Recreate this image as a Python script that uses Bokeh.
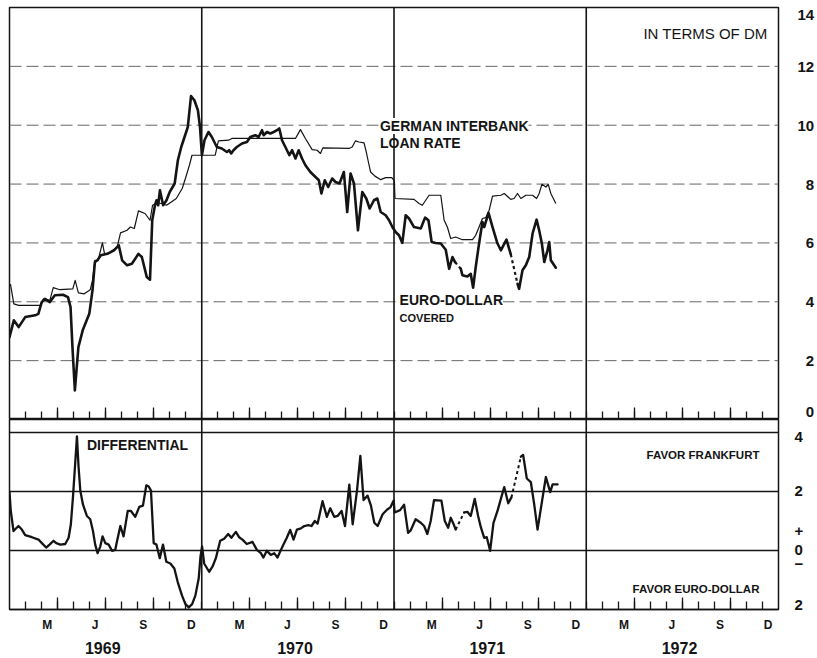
import numpy as np
from bokeh.plotting import figure
from bokeh.models import Range1d, LinearAxis, FixedTicker, Span, Label, Grid
from bokeh.layouts import column
from bokeh.embed import file_html
from bokeh.resources import INLINE

# ---------------- data (months since 1 Jan 1969) ----------------
euro_m = [0.0, 0.27, 0.57, 0.98, 1.60, 1.80, 2.01, 2.21, 2.52, 2.83,
          3.34, 3.65, 3.81, 3.93, 4.08, 4.30, 4.57, 4.98, 5.18, 5.33,
          5.49, 5.70, 6.11, 6.52, 6.82, 7.03, 7.34, 7.64, 8.05, 8.26,
          8.57, 8.77, 8.91, 9.08, 9.18, 9.28, 9.39, 9.59, 9.80, 10.00,
          10.31, 10.51, 10.72, 11.13, 11.33, 11.54, 11.76, 11.89, 12.01,
          12.17, 12.42, 12.63, 12.94, 13.25, 13.57, 13.71, 13.84, 13.98, 14.19,
          14.51, 14.82, 15.03, 15.34, 15.55, 15.76, 15.86, 16.07, 16.28, 16.49,
          16.70, 16.84, 17.01, 17.22, 17.47, 17.64, 17.85, 18.05, 18.26, 18.47,
          18.78, 19.10, 19.31, 19.47, 19.68, 19.89, 20.14, 20.35, 20.60, 20.87,
          21.08, 21.29, 21.50, 21.75, 22.02, 22.27, 22.48, 22.75, 22.96, 23.17,
          23.48, 23.69, 23.90,
          24.10, 24.31, 24.52, 24.73, 24.94, 25.25, 25.67, 25.94, 26.15, 26.35,
          26.60, 26.92, 27.23, 27.44, 27.65, 27.81, 28.17, 28.27, 28.58, 28.79,
          28.94, 29.10, 29.31, 29.52, 29.63, 29.90, 30.15, 30.46, 30.67, 31.02,
          31.29, 31.71, 31.81, 32.02, 32.23, 32.44, 32.65, 32.90, 33.06, 33.23,
          33.38, 33.58, 33.69, 33.79, 34.10]
euro_v = [2.80, 3.37, 3.14, 3.48, 3.54, 3.59, 3.99, 4.10, 3.99, 4.22,
          4.24, 4.16, 3.82, 2.46, 0.99, 2.46, 3.03, 3.59, 4.39, 5.35,
          5.41, 5.58, 5.63, 5.75, 5.92, 5.41, 5.24, 5.29, 5.63, 5.52,
          4.84, 4.75, 6.77, 7.28, 7.45, 7.28, 7.79, 7.28, 7.45, 7.73,
          8.02, 8.81, 9.26, 9.94, 10.99, 10.85, 10.51, 9.94, 8.98,
          9.49, 9.77, 9.60, 9.26, 9.21, 9.09, 9.15, 9.04, 9.15, 9.26,
          9.38, 9.43, 9.60, 9.66, 9.60, 9.83, 9.66, 9.77, 9.72, 9.77,
          9.83, 9.89, 9.49, 9.26, 8.98, 9.15, 8.87, 9.15, 8.87, 8.64,
          8.41, 8.24, 8.13, 7.68, 8.13, 7.90, 8.19, 8.07, 8.02, 8.41,
          7.05, 8.36, 8.02, 6.43, 7.73, 7.51, 7.17, 7.45, 7.51, 7.05,
          6.94, 6.77, 6.54,
          6.37, 6.26, 6.00, 6.94, 6.83, 6.54, 6.49, 6.86, 6.77, 6.03,
          6.00, 5.98, 5.77, 5.12, 5.52, 5.35, 5.12, 4.90, 4.86, 4.95,
          4.48, 5.18, 5.98, 6.71, 6.54, 7.02, 6.54, 5.98, 5.75, 6.11,
          5.61, 4.61, 4.44, 5.07, 5.24, 5.52, 6.32, 6.79, 6.43, 5.98,
          5.35, 5.75, 6.03, 5.41, 5.16]
euro_dashed_from = [27.81, 31.29]

german_m = [0.06, 0.27, 0.57, 1.97, 2.11, 2.52, 2.73, 3.14, 3.95, 4.10,
            4.30, 4.67, 5.04, 5.18, 5.33, 5.53, 5.80, 5.94, 6.31, 6.72,
            6.93, 7.34, 7.54, 7.79, 8.05, 8.46, 8.77, 8.93, 9.18, 9.49,
            9.80, 10.10, 10.41, 10.78, 10.98, 11.23, 11.39, 12.01,
            12.84, 13.04, 13.67, 13.88, 17.85, 18.16, 18.47, 18.89, 19.20, 19.41,
            19.56, 21.19, 21.39, 21.60, 21.81, 22.13, 22.27, 22.40, 22.54, 22.81,
            23.17, 23.48, 23.86,
            24.02, 24.06, 25.25, 25.56, 25.77, 25.98, 26.19, 26.92, 27.13, 27.33,
            27.54, 27.85, 28.27, 28.90, 29.10, 29.31, 29.52, 29.73, 29.94, 30.15,
            30.67, 30.88, 31.29, 31.50, 31.71, 31.92, 32.23, 32.65, 32.90, 33.06,
            33.23, 33.48, 33.63, 33.79, 34.10]
german_v = [4.60, 3.93, 3.88, 3.88, 4.10, 4.05, 4.48, 4.41, 4.44, 4.73,
            4.30, 4.27, 4.41, 4.73, 5.41, 5.41, 6.00, 5.61, 5.69, 5.86,
            6.34, 6.43, 6.54, 6.49, 7.09, 7.00, 6.77, 7.28, 7.36, 7.34,
            7.28, 7.39, 7.51, 7.85, 8.19, 8.64, 8.98, 8.98,
            8.98, 9.47, 9.49, 9.55, 9.55, 9.85, 9.55, 9.17, 9.15, 9.04,
            9.23, 9.21, 9.26, 9.47, 9.43, 9.40, 9.09, 8.75, 8.41, 8.27,
            8.15, 8.22, 8.22,
            8.11, 7.51, 7.48, 7.34, 7.28, 7.45, 7.62, 7.62, 6.77, 6.54,
            6.15, 6.20, 6.11, 6.11, 6.26, 6.54, 6.83, 6.86, 7.11, 7.59,
            7.62, 7.68, 7.48, 7.51, 7.68, 7.51, 7.62, 7.62, 7.51, 7.68,
            7.99, 7.90, 7.99, 7.68, 7.34]

diff_m = [0.0, 0.08, 0.25, 0.56, 0.77, 0.98, 1.40, 1.81, 2.02, 2.29,
          2.50, 2.75, 2.92, 3.17, 3.48, 3.69, 3.83, 3.96, 4.10, 4.21,
          4.31, 4.42, 4.58, 4.83, 5.04, 5.21, 5.35, 5.50, 5.67, 5.81,
          5.98, 6.19, 6.40, 6.60, 6.71, 6.92, 7.12, 7.38, 7.58, 7.85,
          8.10, 8.33, 8.54, 8.69, 8.83, 9.00, 9.17, 9.38, 9.58, 9.79,
          10.04, 10.29, 10.50, 10.77, 10.98, 11.19, 11.40, 11.60, 11.81, 11.92,
          12.02,
          12.15, 12.46, 12.67, 12.88, 13.15, 13.40, 13.65, 13.85, 14.13, 14.33,
          14.54, 14.81, 15.17, 15.44, 15.69, 15.85, 16.06, 16.31, 16.52, 16.73,
          16.90, 17.10, 17.31, 17.52, 17.73, 17.94, 18.19, 18.40, 18.65, 18.85,
          19.06, 19.23, 19.54, 19.81, 20.02, 20.27, 20.48, 20.73, 20.94, 21.21,
          21.42, 21.69, 21.90, 22.10, 22.35, 22.56, 22.77, 22.98, 23.29, 23.56,
          23.77, 23.98,
          24.04, 24.38, 24.63, 24.88, 25.04, 25.35, 25.67, 25.88, 26.08, 26.29,
          26.50, 26.96, 27.17, 27.38, 27.54, 27.71, 27.85, 28.38, 28.58, 28.79,
          29.04, 29.25, 29.42, 29.63, 29.79, 30.00, 30.21, 30.46, 30.67, 30.88,
          31.13, 31.33, 31.92, 32.06, 32.29, 32.54, 32.75, 32.96, 33.21, 33.48,
          33.75, 33.90, 34.21]
diff_v = [1.98, 1.34, 0.66, 0.83, 0.71, 0.52, 0.45, 0.37, 0.25, 0.10,
          0.20, 0.33, 0.25, 0.20, 0.22, 0.43, 0.89, 1.80, 2.95, 3.87,
          2.84, 2.03, 1.57, 1.17, 1.06, 0.66, 0.20, -0.09, 0.14, 0.48,
          0.25, 0.20, -0.01, 0.02, 0.31, 0.83, 0.48, 1.34, 1.34, 1.14,
          1.48, 1.52, 2.21, 2.17, 2.03, 0.25, 0.20, -0.26, 0.20, -0.38,
          -0.44, -0.61, -1.07, -1.53, -1.82, -1.93, -1.82, -1.53, -0.95, -0.21,
          0.14,
          -0.44, -0.72, -0.55, -0.26, 0.33, 0.40, 0.56, 0.43, 0.63, 0.45,
          0.37, 0.22, 0.29, 0.02, -0.09, -0.24, -0.01, -0.15, -0.09, -0.24,
          -0.03, 0.20, 0.43, 0.70, 0.37, 0.71, 0.75, 0.83, 0.86, 0.83,
          1.00, 0.91, 1.67, 1.14, 1.43, 1.14, 1.17, 1.34, 0.83, 2.23,
          0.89, 2.03, 3.21, 1.71, 1.86, 1.52, 0.94, 0.83, 1.23, 1.38,
          1.46, 1.69,
          1.29, 1.37, 1.55, 0.60, 0.68, 1.06, 0.94, 0.83, 0.56, 1.00,
          1.71, 1.69, 1.00, 0.77, 1.11, 0.91, 0.71, 1.29, 1.31, 1.17,
          1.75, 1.17, 0.79, 0.43, 0.45, -0.01, 0.94, 1.34, 1.75, 2.15,
          1.60, 1.80, 3.18, 3.24, 2.44, 2.32, 1.57, 0.71, 1.57, 2.49,
          1.98, 2.24, 2.24]
diff_dashed_from = [27.85, 31.33]

years = [1969, 1970, 1971, 1972]
month_letters = ["M", "J", "S", "D"]
month_letter_pos = [2.35, 5.35, 8.35, 11.35]     # months into each year
year_label_pos = 0.485                            # fraction into each year
top_grid = [2, 4, 6, 8, 10, 12]
top_labels = ["0", "2", "4", "6", "8", "10", "12", "14"]
top_label_pos = [0.2, 2, 4, 6, 8, 10, 12, 13.76]
diff_grid = [0, 2]
diff_labels = ["2", "\u2212", "0", "+", "2", "4"]
diff_label_pos = [-1.86, -0.45, 0.03, 0.66, 2.0, 3.83]

# ---------------- helpers ----------------
FONT = "Liberation Sans"
INK = "#141414"


def to_year(m):
    return 1969 + np.asarray(m, dtype=float) / 12.0


def split_series(m, v, dash_starts):
    m = np.asarray(m, float)
    xs = to_year(m)
    vs = np.asarray(v, float)
    cuts = sorted(int(np.argmin(np.abs(m - d))) for d in dash_starts)
    sx, sy, dx, dy = [], [], [], []
    s = 0
    for i in cuts:
        sx.append(list(xs[s:i + 1])); sy.append(list(vs[s:i + 1]))
        dx.append(list(xs[i:i + 2])); dy.append(list(vs[i:i + 2]))
        s = i + 1
    sx.append(list(xs[s:])); sy.append(list(vs[s:]))
    return sx, sy, dx, dy


month_bounds = [1969 + k / 12 for k in range(1, 48)]
quarter_bounds = [y + q / 4 for y in years for q in (1, 2, 3)]

x_range = Range1d(1969, 1973)

common = dict(width=817, output_backend="svg", toolbar_location=None,
              x_axis_location=None, y_axis_location=None,
              min_border_left=9, min_border_right=38, min_border_bottom=0,
              background_fill_color="white", border_fill_color="white",
              outline_line_color=INK, outline_line_width=1.5)


def kill_grid(p):
    for g in p.select(type=Grid):
        g.visible = False


def add_dividers(p):
    for yr in years[1:]:
        p.add_layout(Span(location=yr, dimension="height", line_color=INK,
                          line_width=1.6, level="underlay"))


def right_axis(labels, pos, standoff, size="15px"):
    return LinearAxis(ticker=FixedTicker(ticks=pos),
                      major_label_overrides={p: l for p, l in zip(pos, labels)},
                      axis_line_color=None, major_tick_line_color=None,
                      minor_tick_line_color=None, major_tick_out=0, major_tick_in=0,
                      minor_tick_out=0, minor_tick_in=0,
                      major_label_standoff=standoff,
                      major_label_text_font=FONT, major_label_text_font_style="bold",
                      major_label_text_font_size=size, major_label_text_color=INK)


def mark_axis(bounds, length, line=True):
    # axis carrying only (label-free) minor tick marks pointing into the panel
    return LinearAxis(ticker=FixedTicker(ticks=[], minor_ticks=bounds),
                      major_tick_in=0, major_tick_out=0,
                      minor_tick_in=length, minor_tick_out=0,
                      minor_tick_line_color=INK, minor_tick_line_width=1.3,
                      major_label_standoff=0,
                      axis_line_color=INK if line else None, axis_line_width=1.5)


# ---------------- top panel ----------------
p1 = figure(height=419, min_border_top=7, x_range=x_range, y_range=Range1d(0, 14), **common)
kill_grid(p1)
for g in top_grid:
    p1.add_layout(Span(location=g, dimension="width", line_color="#666666",
                       line_width=1, line_dash="12 5", level="underlay"))
add_dividers(p1)

p1.line(to_year(german_m), german_v, line_color=INK, line_width=1.2, line_join="round")
ex, ey, edx, edy = split_series(euro_m, euro_v, euro_dashed_from)
p1.multi_line(ex, ey, line_color=INK, line_width=2.6, line_join="round", line_cap="round")
p1.multi_line(edx, edy, line_color=INK, line_width=2.2, line_dash="3 3")

p1.add_layout(right_axis(["\u2007" + t if len(t) == 1 else t for t in top_labels],
                         top_label_pos, 19), "right")
p1.add_layout(mark_axis(quarter_bounds, 12), "below")
p1.add_layout(mark_axis(month_bounds, 8, line=False), "below")

lab = dict(text_font=FONT, text_font_style="bold", text_color=INK, text_baseline="middle")
p1.add_layout(Label(x=1972.943, y=13.13, text="IN TERMS OF DM", text_align="right",
                    text_font=FONT, text_font_size="15px", text_color=INK,
                    text_baseline="middle"))
p1.add_layout(Label(x=1970.927, y=9.97, text="GERMAN INTERBANK", text_font_size="14px",
                    background_fill_color="white", **lab))
p1.add_layout(Label(x=1970.927, y=9.39, text="LOAN RATE", text_font_size="14px", **lab))
p1.add_layout(Label(x=1971.029, y=4.05, text="EURO-DOLLAR", text_font_size="14px",
                    background_fill_color="white", **lab))
p1.add_layout(Label(x=1971.029, y=3.44, text="COVERED", text_font_size="11px", **lab))

# ---------------- bottom panel ----------------
p2 = figure(height=237, min_border_top=0, x_range=x_range, y_range=Range1d(-2, 4.44), **common)
kill_grid(p2)
for g in diff_grid:
    p2.add_layout(Span(location=g, dimension="width", line_color=INK,
                       line_width=1.3, level="underlay"))
p2.add_layout(Span(location=4, dimension="width", line_color=INK, line_width=1.5,
                   level="underlay"))
add_dividers(p2)

dx_, dy_, ddx, ddy = split_series(diff_m, diff_v, diff_dashed_from)
p2.multi_line(dx_, dy_, line_color=INK, line_width=2.3, line_join="round", line_cap="round")
p2.multi_line(ddx, ddy, line_color=INK, line_width=2.0, line_dash="3 3")

p2.add_layout(right_axis(diff_labels, diff_label_pos, 16), "right")
p2.add_layout(mark_axis(quarter_bounds, 12), "below")

m_ticks, m_over = [], {}
for y in years:
    for pos, l in zip(month_letter_pos, month_letters):
        t = y + pos / 12
        m_ticks.append(t)
        m_over[t] = l
p2.add_layout(LinearAxis(ticker=FixedTicker(ticks=m_ticks, minor_ticks=month_bounds),
                         major_label_overrides=m_over,
                         axis_line_color=None, major_tick_line_color=None,
                         major_tick_in=0, major_tick_out=0,
                         minor_tick_in=8, minor_tick_out=0,
                         minor_tick_line_color=INK, minor_tick_line_width=1.3,
                         major_label_standoff=8,
                         major_label_text_font=FONT, major_label_text_font_style="bold",
                         major_label_text_font_size="12px", major_label_text_color=INK),
              "below")
y_ticks = [y + year_label_pos for y in years]
p2.add_layout(LinearAxis(ticker=FixedTicker(ticks=y_ticks),
                         major_label_overrides={t: str(y) for t, y in zip(y_ticks, years)},
                         axis_line_color=None, major_tick_line_color=None,
                         minor_tick_line_color=None, major_tick_in=0, major_tick_out=0,
                         minor_tick_in=0, minor_tick_out=0, major_label_standoff=7,
                         major_label_text_font=FONT, major_label_text_font_style="bold",
                         major_label_text_font_size="16px", major_label_text_color=INK),
              "below")

p2.add_layout(Label(x=1969.403, y=3.59, text="DIFFERENTIAL", text_font_size="14px", **lab))
p2.add_layout(Label(x=1972.901, y=3.22, text="FAVOR FRANKFURT", text_align="right",
                    text_font_size="11.5px", **lab))
p2.add_layout(Label(x=1972.901, y=-1.29, text="FAVOR EURO-DOLLAR", text_align="right",
                    text_font_size="11.5px", **lab))

layout = column(p1, p2, spacing=0)
open("out.html", "w").write(file_html(layout, INLINE))
